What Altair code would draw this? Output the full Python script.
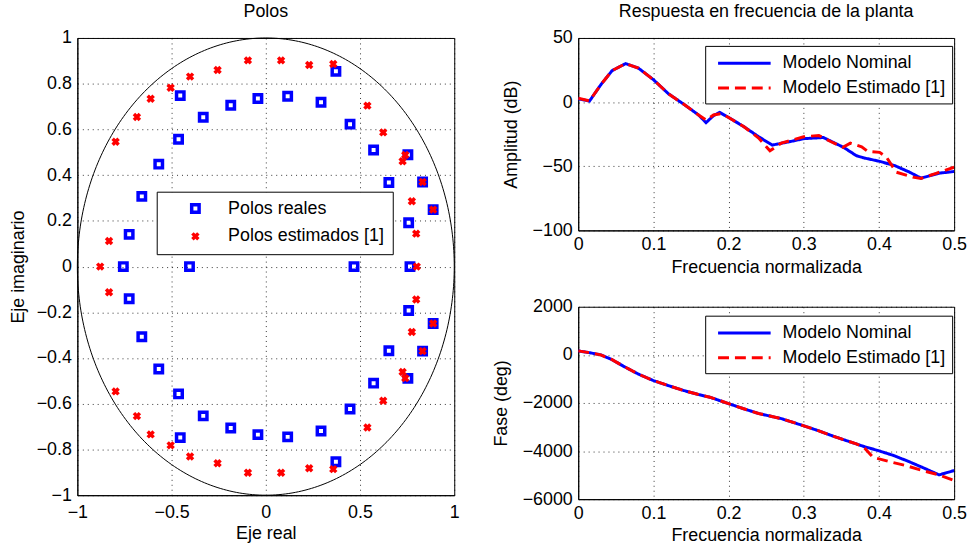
import altair as alt
import pandas as pd
import numpy as np

FONT = "Liberation Sans"
FS = 18

# ---------------- Poles (upper half-plane and real axis; conjugates mirrored) ----------------
real_re = [-0.756, -0.405, 0.468, 0.765, -0.725, -0.658, -0.568, -0.463, -0.454, -0.332, -0.186,
           -0.042, 0.116, 0.293, 0.372, 0.447, 0.572, 0.653, 0.754, 0.832, 0.888, 0.758]
real_im = [0.0, 0.0, 0.0, 0.0, 0.141, 0.307, 0.448, 0.557, 0.748, 0.653, 0.706,
           0.735, 0.745, 0.719, 0.854, 0.623, 0.510, 0.368, 0.489, 0.370, 0.249, 0.192]
est_re = [-0.879, 0.801, -0.832, -0.797, -0.684, -0.611, -0.505, -0.402, -0.256, -0.095, 0.081,
          0.230, 0.358, 0.539, 0.623, 0.740, 0.726, 0.832, 0.775, 0.888, 0.798]
est_im = [0.0, 0.0, 0.112, 0.546, 0.654, 0.734, 0.782, 0.831, 0.860, 0.902, 0.902,
          0.882, 0.886, 0.704, 0.587, 0.488, 0.461, 0.370, 0.286, 0.249, 0.144]

SERIES = ["Polos reales", "Polos estimados [1]"]

# ---------------- Frequency response ----------------
MODELS = ["Modelo Nominal", "Modelo Estimado [1]"]

amp_f_nom = [0, 0.015, 0.03, 0.045, 0.063, 0.08, 0.1, 0.12, 0.14, 0.16, 0.17, 0.18, 0.188, 0.2,
             0.22, 0.24, 0.258, 0.28, 0.3, 0.326, 0.353, 0.37, 0.38, 0.401, 0.421, 0.441, 0.456,
             0.48, 0.5]
amp_nom = [2.6, 0.8, 13.5, 24.5, 30, 26.5, 17.5, 6.5, -1.5, -10, -16, -10.5, -8, -12,
           -19, -27, -33.5, -31, -28.5, -27.6, -35.3, -41.8, -43.5, -46.2, -49.5, -54.7, -59.3,
           -55.4, -54.1]

amp_f_est = [0, 0.015, 0.03, 0.045, 0.063, 0.08, 0.1, 0.12, 0.14, 0.16, 0.17, 0.18, 0.19, 0.2,
             0.22, 0.24, 0.255, 0.27, 0.3, 0.32, 0.335, 0.352, 0.362, 0.377, 0.385, 0.401, 0.41,
             0.423, 0.445, 0.456, 0.476, 0.5]
amp_est = [3, 1, 13.5, 24.5, 30, 26.5, 17.5, 6.5, -1.5, -10, -14, -10, -9, -12,
           -19, -28, -38, -32, -27, -26, -30.5, -35.3, -32, -34.8, -38.4, -39.2, -43,
           -54.6, -58.5, -59.5, -55.5, -50.8]

ph_f_nom = [0, 0.015, 0.03, 0.045, 0.06, 0.08, 0.1, 0.12, 0.14, 0.16, 0.175, 0.19, 0.2, 0.22,
            0.24, 0.25, 0.27, 0.3, 0.32, 0.34, 0.36, 0.38, 0.4, 0.42, 0.44, 0.46, 0.48, 0.49, 0.5]
ph_nom = [165, 90, 0, -200, -470, -800, -1070, -1280, -1480, -1650, -1760, -1920, -2030, -2240,
          -2440, -2510, -2650, -2950, -3160, -3390, -3600, -3810, -3990, -4190, -4440, -4710,
          -4990, -4900, -4810]

ph_f_est = [0, 0.015, 0.03, 0.045, 0.06, 0.08, 0.1, 0.12, 0.14, 0.16, 0.175, 0.19, 0.2, 0.22,
            0.24, 0.25, 0.27, 0.3, 0.32, 0.34, 0.36, 0.37, 0.38, 0.392, 0.414, 0.436, 0.458,
            0.48, 0.5]
ph_est = [165, 90, 0, -200, -470, -800, -1070, -1280, -1480, -1650, -1760, -1920, -2030, -2240,
          -2440, -2510, -2650, -2950, -3160, -3390, -3600, -3700, -3850, -4260, -4440, -4605,
          -4810, -4990, -5223]

# ---------------- Tables ----------------
rows = []
k = 0
for name, res, ims in [(SERIES[0], real_re, real_im), (SERIES[1], est_re, est_im)]:
    for r, i in zip(res, ims):
        rows.append({"re": r, "im": i, "serie": name, "k": k}); k += 1
        if i > 0:
            rows.append({"re": r, "im": -i, "serie": name, "k": k}); k += 1
poles_df = pd.DataFrame(rows)

theta = np.linspace(0, 2 * np.pi, 361)
circle_df = pd.DataFrame({"x": np.cos(theta), "y": np.sin(theta), "i": np.arange(361)})


def resp_df(f1, v1, f2, v2):
    a = pd.DataFrame({"f": f1, "v": v1, "modelo": MODELS[0], "i": range(len(f1))})
    b = pd.DataFrame({"f": f2, "v": v2, "modelo": MODELS[1], "i": range(len(f2))})
    return pd.concat([a, b], ignore_index=True)


amp_df = resp_df(amp_f_nom, amp_nom, amp_f_est, amp_est)
ph_df = resp_df(ph_f_nom, ph_nom, ph_f_est, ph_est)

# ---------------- Left panel: poles ----------------
XPATH = "M-0.8,-0.8L0.8,0.8M-0.8,0.8L0.8,-0.8"

xs = alt.Scale(domain=[-1, 1], nice=False, zero=False)
ys = alt.Scale(domain=[-1, 1], nice=False, zero=False)

x_ax = alt.Axis(values=[-1, -0.5, 0, 0.5, 1], format="~r", title="Eje real",
                labelPadding=8, titlePadding=4)
y_ax = alt.Axis(values=[-1, -0.8, -0.6, -0.4, -0.2, 0, 0.2, 0.4, 0.6, 0.8, 1], format="~r",
                title="Eje imaginario", labelPadding=6, titlePadding=9)

circle = alt.Chart(circle_df).mark_line(color="black", strokeWidth=1).encode(
    x=alt.X("x:Q", scale=xs, axis=x_ax),
    y=alt.Y("y:Q", scale=ys, axis=y_ax),
    order="i:Q",
)

pole_leg = alt.Legend(title=None, orient="none", legendX=80, legendY=155,
                      strokeColor="black", fillColor="white", padding=8, rowPadding=7,
                      labelFont=FONT, labelFontSize=FS, labelColor="black", labelLimit=400,
                      symbolOffset=22, labelOffset=24, symbolStrokeWidth=3.5, symbolSize=56)

points = alt.Chart(poles_df).mark_point(filled=False, strokeWidth=3.5, size=56, opacity=1).encode(
    x=alt.X("re:Q", scale=xs),
    y=alt.Y("im:Q", scale=ys),
    color=alt.Color("serie:N", scale=alt.Scale(domain=SERIES, range=["#0000ff", "#ff0000"]),
                    legend=pole_leg),
    shape=alt.Shape("serie:N", scale=alt.Scale(domain=SERIES, range=["square", XPATH]),
                    legend=pole_leg),
    order="k:Q",
)

left = alt.layer(circle, points).properties(width=380, height=461, title="Polos")

# ---------------- Right panels ----------------
fx = alt.Scale(domain=[0, 0.5], nice=False, zero=False)
LINE_SYMBOL = "M-2.65,0L2.65,0"


def resp_chart(df, ydom, yvals, ytitle, xtitle, title, legy):
    leg = alt.Legend(title=None, orient="none", legendX=128, legendY=legy,
                     strokeColor="black", fillColor="white", padding=6, rowPadding=4,
                     labelFont=FONT, labelFontSize=FS, labelColor="black", labelLimit=400,
                     symbolType=LINE_SYMBOL, symbolSize=400, symbolStrokeWidth=3,
                     symbolOffset=22, labelOffset=27)
    ch = alt.Chart(df).mark_line(strokeWidth=3, clip=True).encode(
        x=alt.X("f:Q", scale=fx,
                axis=alt.Axis(values=[0, 0.1, 0.2, 0.3, 0.4, 0.5], format="~r", title=xtitle,
                              labelPadding=5, titlePadding=5)),
        y=alt.Y("v:Q", scale=alt.Scale(domain=ydom, nice=False, zero=False),
                axis=alt.Axis(values=yvals, format="~r", title=ytitle, labelPadding=6,
                              titlePadding=12)),
        color=alt.Color("modelo:N", scale=alt.Scale(domain=MODELS, range=["#0000ff", "#ff0000"]),
                        legend=leg),
        strokeDash=alt.StrokeDash("modelo:N",
                                  scale=alt.Scale(domain=MODELS, range=[[1, 0], [11, 6]]),
                                  legend=leg),
        order="i:Q",
    )
    props = dict(width=379, height=194)
    if title:
        props["title"] = title
    return ch.properties(**props)


amp = resp_chart(amp_df, [-100, 50], [-100, -50, 0, 50], "Amplitud (dB)",
                 "Frecuencia normalizada", "Respuesta en frecuencia de la planta", 8)
phase = resp_chart(ph_df, [-6000, 2000], [-6000, -4000, -2000, 0, 2000], "Fase (deg)",
                   "Frecuencia normalizada", None, 9)

right = alt.vconcat(amp, phase, spacing=20).resolve_scale(
    color="independent", strokeDash="independent"
).resolve_legend(color="independent", strokeDash="independent")

chart = alt.hconcat(left, right, spacing=31).resolve_scale(
    color="independent", strokeDash="independent", shape="independent"
).resolve_legend(
    color="independent", strokeDash="independent", shape="independent"
).properties(
    padding={"left": 8, "top": 0, "right": 2, "bottom": 5}
).configure_view(
    stroke="black", strokeWidth=1
).configure_axis(
    labelFont=FONT, labelFontSize=FS, labelColor="black", labelFlush=False,
    titleFont=FONT, titleFontSize=FS, titleFontWeight="normal", titleColor="black",
    domainColor="black", domainWidth=1, ticks=False,
    grid=True, gridColor="#000000", gridOpacity=0.8, gridDash=[1, 4], gridWidth=1,
).configure_title(
    font=FONT, fontSize=FS, fontWeight="normal", color="black", offset=8
)

chart.save("out.html", embed_options={"renderer": "svg", "actions": False})
